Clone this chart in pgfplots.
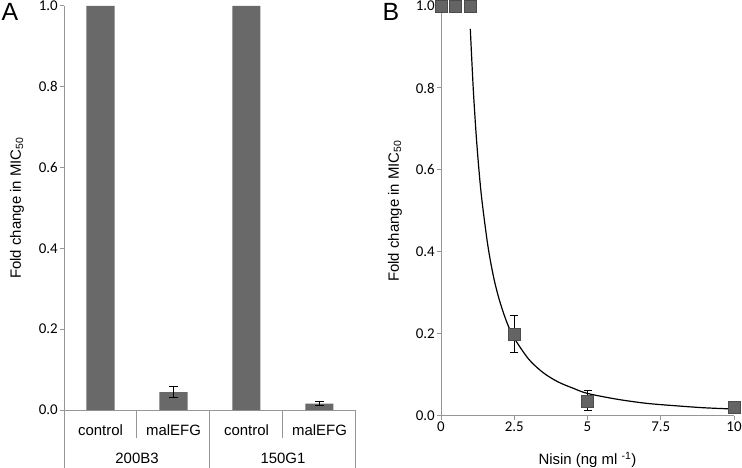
\documentclass[border=0pt]{standalone}
\usepackage{fontspec}
\setmainfont{Liberation Sans}
\newfontfamily\carlito{Carlito}
\usepackage{pgfplots}
\pgfplotsset{compat=1.18}
\definecolor{barg}{RGB}{105,105,105}
\definecolor{axg}{RGB}{150,150,150}
\definecolor{mkg}{RGB}{100,100,100}
\definecolor{mkb}{RGB}{75,75,75}
\begin{document}
\begin{tikzpicture}
\path[use as bounding box] (0bp,0bp) rectangle (742bp,468bp);
\pgfplotsset{
  every axis/.append style={scale only axis, clip=false,
    axis line style={axg, line width=1bp},
    tick style={axg, line width=1bp},
    major tick length=4bp, tick align=outside,
    /pgf/number format/assume math mode=true,
    tick label style={font=\carlito\fontsize{15}{15}\selectfont, black, inner sep=2bp},
    label style={font=\fontsize{15}{18}\selectfont},
    ymin=0, ymax=1, ytick={0,0.2,0.4,0.6,0.8,1.0},
    yticklabel style={/pgf/number format/.cd, fixed, fixed zerofill, precision=1},
    axis x line*=bottom, axis y line*=left,
  }
}
% ---------------- Panel A ----------------
\begin{axis}[at={(64bp,58bp)}, anchor=south west, width=292bp, height=404bp,
  xmin=-0.5, xmax=3.5, xtick=\empty, ybar, bar width=28bp, bar shift=0pt,
  ylabel={Fold change in MIC\textsubscript{50}},
  ylabel style={at={(axis description cs:-0.161,0.5)}, anchor=center},
]
\addplot[fill=barg, draw=none] coordinates {(0,1.0) (2,1.0)};
\addplot[fill=barg, draw=none,
  error bars/.cd, y dir=both, y explicit,
  error bar style={black, line width=1bp},
  error mark options={rotate=90, black, line width=1bp, mark size=4bp}]
 table[x=x, y=y, y error=e]{
 x y e
 1 0.044 0.014
 3 0.016 0.006
 };
\draw[axg, line width=1bp] (axis cs:0.5,0) -- ++(0pt,-28bp);
\draw[axg, line width=1bp] (axis cs:2.5,0) -- ++(0pt,-28bp);
\draw[axg, line width=1bp] (axis cs:-0.5,0) -- ++(0pt,-58bp);
\draw[axg, line width=1bp] (axis cs:1.5,0) -- ++(0pt,-58bp);
\draw[axg, line width=1bp] (axis cs:3.5,0) -- ++(0pt,-58bp);
\node[font=\fontsize{15}{18}\selectfont, yshift=-20bp] at (axis cs:0,0) {control};
\node[font=\fontsize{15}{18}\selectfont, yshift=-20bp] at (axis cs:1,0) {malEFG};
\node[font=\fontsize{15}{18}\selectfont, yshift=-20bp] at (axis cs:2,0) {control};
\node[font=\fontsize{15}{18}\selectfont, yshift=-20bp] at (axis cs:3,0) {malEFG};
\node[font=\fontsize{15}{18}\selectfont, yshift=-48bp] at (axis cs:0.5,0) {200B3};
\node[font=\fontsize{15}{18}\selectfont, yshift=-48bp] at (axis cs:2.5,0) {150G1};
\end{axis}
% ---------------- Panel B ----------------
\begin{axis}[at={(441bp,52bp)}, anchor=south west, width=293bp, height=410bp,
  xmin=0, xmax=10, xtick={0,2.5,5,7.5,10}, xticklabels={0,2.5,5,7.5,10},
  ylabel={Fold change in MIC\textsubscript{50}},
  ylabel style={at={(axis description cs:-0.157,0.5)}, anchor=center},
  xlabel={Nisin (ng ml \textsuperscript{-1})},
  xlabel style={at={(axis description cs:0.5,0)}, anchor=center, yshift=-44bp},
]
\addplot[only marks, mark=square*, mark size=6bp,
  mark options={fill=mkg, draw=mkb, line width=0.6bp},
  error bars/.cd, y dir=both, y explicit,
  error bar style={black, line width=1bp},
  error mark options={rotate=90, black, line width=1bp, mark size=4bp}]
 table[x=x, y=y, y error=e]{
 x y e
 2.5 0.200 0.044
 5 0.037 0.024
 10 0.020 0.015
 };
\addplot[only marks, mark=square*, mark size=6bp,
  mark options={fill=mkg, draw=mkb, line width=0.6bp}]
 coordinates {(0,1) (0.5,1) (1,1)};
\addplot[black, line width=1.2bp, smooth, no marks] coordinates {
 (1,0.944) (1.1,0.799) (1.2,0.686) (1.3,0.596) (1.4,0.524) (1.6,0.415)
 (1.8,0.337) (2.0,0.281) (2.25,0.228) (2.5,0.190) (3,0.138) (3.5,0.105)
 (4,0.083) (4.5,0.068) (5,0.055) (6,0.041) (7,0.031) (8,0.025) (9,0.020) (10,0.017)};
\end{axis}
\node[font=\fontsize{25}{25}\selectfont] at (10bp,456bp) {A};
\node[font=\fontsize{25}{25}\selectfont] at (391bp,456bp) {B};
\end{tikzpicture}
\end{document}
